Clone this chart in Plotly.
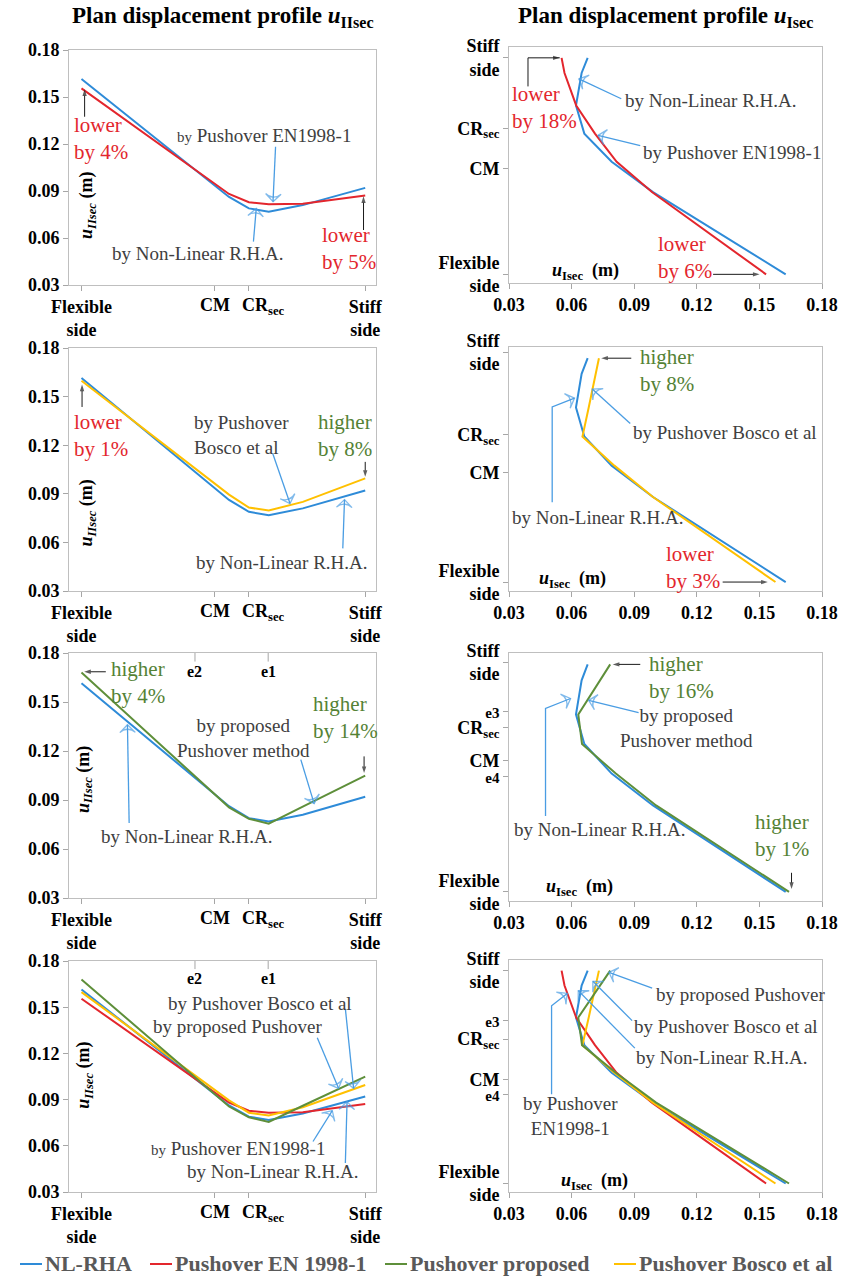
import plotly.graph_objects as go

W, H = 842, 1277
SERIF = "Liberation Serif"

# ---------------------------------------------------------------- data
# Plan position along the section (0 = flexible side, 1 = stiff side)
POS_II = [0.0, 0.52, 0.59, 0.66, 0.78, 1.0]
POS_I = [0.0, 0.38, 0.52, 0.65, 0.78, 0.93, 1.0]

# u_IIsec (m) at POS_II
UII_NLRHA = [0.1615, 0.0862, 0.0789, 0.0768, 0.0810, 0.0920]
UII_EN1998 = [0.1555, 0.0881, 0.0828, 0.0815, 0.0818, 0.0871]
UII_PROPOSED = [0.1680, 0.0855, 0.0785, 0.0755, 0.0860, 0.1049]
UII_BOSCO = [0.1598, 0.0895, 0.0815, 0.0797, 0.0850, 0.0995]

# u_Isec (m) at POS_I
UI_NLRHA = [0.1626, 0.0990, 0.0792, 0.0661, 0.0621, 0.0648, 0.0677]
UI_EN1998 = [0.1532, 0.0985, 0.0816, 0.0712, 0.0622, 0.0566, 0.0552]
UI_PROPOSED = [0.1642, 0.1005, 0.0812, 0.0650, 0.0632, 0.0735, 0.0785]
UI_BOSCO = [0.1577, 0.0990, 0.0805, 0.0652, 0.0682, 0.0714, 0.0731]

# landmark positions along the plan
II_SIDES = [0.0, 1.0]
II_SIDE_LABELS = ["Flexible<br>side", "Stiff<br>side"]
II_CM, II_CR = 0.47, 0.587
II_E_MARKS = [0.40, 0.658]
II_E_LABELS = ["e2", "e1"]
I_TICKS = [
    [0.0, 0.488, 0.675, 1.0],
    [0.0, 0.489, 0.659, 1.027],
    [0.0, 0.508, 0.576, 0.722, 0.791, 1.009],
    [0.0, 0.416, 0.487, 0.678, 0.765, 1.003],
]
E_SMALL = '<span style="font-size:15px">%s</span>'
I_SIDE = ["Flexible<br>side", "CM", "CR<sub>sec</sub>", "Stiff<br>side"]
I_E = ["Flexible<br>side", E_SMALL % "e4", "CM", "CR<sub>sec</sub>", E_SMALL % "e3", "Stiff<br>side"]
I_LABELS = [I_SIDE, I_SIDE, I_E, I_E]
DISP_TICKS = [0.03, 0.06, 0.09, 0.12, 0.15, 0.18]

SERIES_NAMES = ["NL-RHA", "Pushover EN 1998-1", "Pushover proposed", "Pushover Bosco et al"]
COLORS = {
    "NL-RHA": "#2e8bd8",
    "Pushover EN 1998-1": "#e3262d",
    "Pushover proposed": "#5e8f3a",
    "Pushover Bosco et al": "#ffc000",
}
UII = dict(zip(SERIES_NAMES, [UII_NLRHA, UII_EN1998, UII_PROPOSED, UII_BOSCO]))
UI = dict(zip(SERIES_NAMES, [UI_NLRHA, UI_EN1998, UI_PROPOSED, UI_BOSCO]))

ROW_SERIES = [
    ["NL-RHA", "Pushover EN 1998-1"],
    ["NL-RHA", "Pushover Bosco et al"],
    ["NL-RHA", "Pushover proposed"],
    ["NL-RHA", "Pushover EN 1998-1", "Pushover Bosco et al", "Pushover proposed"],
]

# ---------------------------------------------------------------- layout geometry (px)
LEFT_X = (69, 376)
RIGHT_X = (509, 822)
LEFT_Y = [(50, 285), (348, 591), (653, 898), (961, 1192)]
RIGHT_Y = [(47, 283), (347, 591), (653, 901), (960, 1192)]

TXT_GRAY = "#404040"
RED_TXT = "#e3262d"
GREEN_TXT = "#548235"
ARROW_BLUE = "#4a9de3"
AXIS_GRAY = "#bfbfbf"
TICK_GRAY = "#a6a6a6"
NOTE = 19      # size of the descriptive notes
PCT = 21       # size of the percentage notes
TICK_SIZE = 18


def xdom(a, b):
    return [a / W, b / W]


def ydom(t, b):
    return [1 - b / H, 1 - t / H]


def ax_id(k):
    return ("x", "y") if k == 1 else (f"x{k}", f"y{k}")


fig = go.Figure()
layout = dict(
    template="none",
    width=W, height=H, margin=dict(l=0, r=0, t=0, b=0, pad=0), autosize=False,
    paper_bgcolor="white", plot_bgcolor="white", showlegend=False,
    font=dict(family=SERIF, color="black"),
)

tickfont = dict(family=SERIF, size=TICK_SIZE, color="black", weight="bold")
common_axis = dict(
    showline=True, linecolor=AXIS_GRAY, linewidth=1, mirror=True,
    showgrid=False, zeroline=False, ticks="outside", ticklen=5,
    tickcolor=TICK_GRAY, tickfont=tickfont, fixedrange=True, tickangle=0,
    automargin=False,
)

annotations = []
shapes = []

for r in range(4):
    # left column: u_IIsec along the plan
    k = 2 * r + 1
    xr, yr = ax_id(k)
    for name in ROW_SERIES[r]:
        fig.add_trace(go.Scatter(
            x=POS_II, y=UII[name], mode="lines", name=name,
            line=dict(color=COLORS[name], width=2), xaxis=xr, yaxis=yr,
        ))
    xkey = "xaxis" if k == 1 else f"xaxis{k}"
    ykey = "yaxis" if k == 1 else f"yaxis{k}"
    layout[xkey] = dict(common_axis, domain=xdom(*LEFT_X), anchor=yr,
                        range=[-0.044, 1.038], tickvals=II_SIDES, ticktext=II_SIDE_LABELS,
                        minor=dict(tickvals=[II_CM, II_CR], ticks="outside", ticklen=5,
                                   tickcolor=TICK_GRAY, showgrid=False))
    layout[ykey] = dict(common_axis, domain=ydom(*LEFT_Y[r]), anchor=xr,
                        range=[0.03, 0.18], tickvals=DISP_TICKS, tickformat=".2f")
    # CM / CR_sec labels sit under their ticks, CR_sec label set slightly right
    for xv, lab, anchor, dx in ((II_CM, "CM", "center", 0.0),
                                (II_CR, "CR<sub>sec</sub>", "left", -0.028)):
        annotations.append(dict(
            x=xv + dx, y=0, xref=xr, yref=f"{yr} domain", text=f"<b>{lab}</b>",
            showarrow=False, xanchor=anchor, yanchor="top", yshift=-8,
            font=dict(family=SERIF, size=TICK_SIZE, color="black"),
        ))

    # right column: u_Isec along the plan
    k = 2 * r + 2
    xr, yr = ax_id(k)
    for name in ROW_SERIES[r]:
        fig.add_trace(go.Scatter(
            x=UI[name], y=POS_I, mode="lines", name=name,
            line=dict(color=COLORS[name], width=2), xaxis=xr, yaxis=yr,
        ))
    layout[f"xaxis{k}"] = dict(common_axis, domain=xdom(*RIGHT_X), anchor=yr,
                               range=[0.03, 0.18], tickvals=DISP_TICKS, tickformat=".2f")
    layout[f"yaxis{k}"] = dict(common_axis, domain=ydom(*RIGHT_Y[r]), anchor=xr,
                               range=[-0.04, 1.05], tickvals=I_TICKS[r], ticktext=I_LABELS[r])


def text(k, x, y, s, color=TXT_GRAY, size=NOTE, xanchor="left", align="left", angle=0):
    xr, yr = ax_id(k)
    annotations.append(dict(
        x=x, y=y, xref=xr, yref=yr, text=s, showarrow=False,
        xanchor=xanchor, yanchor="middle", align=align, textangle=angle,
        font=dict(family=SERIF, size=size, color=color),
    ))


def arrow(k, *pts, black=False):
    """Pointer drawn from the first point through the others; head at the last point."""
    xr, yr = ax_id(k)
    color = "#1a1a1a" if black else ARROW_BLUE
    n = len(pts)
    sizes = [0] * (n - 1) + [7 if black else 11]
    fig.add_trace(go.Scatter(
        x=[p[0] for p in pts], y=[p[1] for p in pts], mode="lines+markers",
        line=dict(color=color, width=1 if black else 1.3),
        marker=dict(symbol="arrow" if black else "arrow-wide-open", size=sizes,
                    angleref="previous", color=color,
                    line=dict(color=color, width=0 if black else 1.3)),
        hoverinfo="skip", xaxis=xr, yaxis=yr,
    ))


def e_marks(k, yval):
    xr, yr = ax_id(k)
    for xv, lab in zip(II_E_MARKS, II_E_LABELS):
        shapes.append(dict(type="line", xref=xr, yref=f"{yr} domain", x0=xv, x1=xv,
                           y0=1, y1=0.965, line=dict(color=TICK_GRAY, width=1)))
        text(k, xv, yval, f"<b>{lab}</b>", color="black", size=16, xanchor="center")


Y_TITLE_II = "<b><i>u</i></b><sub><b><i>IIsec</i></b></sub><b> (m)</b>"
X_TITLE_I = "<b><i>u</i><sub>Isec</sub>  (m)</b>"
BY_EN = '<span style="font-size:15px">by</span> Pushover EN1998-1'
NL = "by Non-Linear R.H.A."

# --- row 1, left
text(1, -0.034, 0.1236, "lower<br>by 4%", RED_TXT, PCT)
arrow(1, (0.011, 0.1374), (0.011, 0.1549), black=True)
text(1, 0.644, 0.1257, BY_EN, xanchor="center")
arrow(1, (0.684, 0.1183), (0.675, 0.0832))
text(1, 0.409, 0.0502, NL, xanchor="center")
arrow(1, (0.606, 0.0577), (0.616, 0.0789))
text(1, 0.84, 0.0534, "lower<br>by 5%", RED_TXT, PCT)
arrow(1, (0.994, 0.0651), (0.994, 0.0866), black=True)
text(1, 0.019, 0.081, Y_TITLE_II, "black", 18, xanchor="center", angle=-90)

# --- row 1, right
text(2, 0.0306, 0.772, "lower<br>by 18%", RED_TXT, PCT)
arrow(2, (0.0391, 0.868), (0.0391, 1.0), (0.0543, 1.0), black=True)
text(2, 0.0846, 0.803, NL)
arrow(2, (0.0838, 0.811), (0.0635, 0.903))
text(2, 0.0934, 0.565, "by Pushover EN1998-1")
arrow(2, (0.0929, 0.595), (0.0727, 0.642))
text(2, 0.1006, 0.077, "lower<br>by 6%", RED_TXT, PCT)
arrow(2, (0.1278, 0.0), (0.1501, 0.0), black=True)
text(2, 0.0495, 0.015, X_TITLE_I, "black", 18)

# --- row 2, left
text(3, -0.033, 0.1262, "lower<br>by 1%", RED_TXT, PCT)
arrow(3, (0.002, 0.1436), (0.002, 0.1574), black=True)
text(3, 0.388, 0.1264, "by Pushover<br>Bosco et al")
arrow(3, (0.674, 0.1149), (0.735, 0.084))
text(3, 0.828, 0.1262, "higher<br>by 8%", GREEN_TXT, PCT)
arrow(3, (1.0, 0.1097), (1.0, 0.1005), black=True)
text(3, 0.398, 0.0475, NL)
arrow(3, (0.921, 0.0563), (0.927, 0.0864))
text(3, 0.02, 0.0779, Y_TITLE_II, "black", 18, xanchor="center", angle=-90)

# --- row 2, right
text(4, 0.0918, 0.945, "higher<br>by 8%", GREEN_TXT, PCT)
arrow(4, (0.0886, 1.0), (0.0742, 1.0), black=True)
text(4, 0.0886, 0.670, "by Pushover Bosco et al")
arrow(4, (0.0881, 0.708), (0.0699, 0.862))
text(4, 0.0306, 0.289, NL)
arrow(4, (0.0507, 0.356), (0.0507, 0.782), (0.0614, 0.822))
text(4, 0.1045, 0.067, "lower<br>by 3%", RED_TXT, PCT)
arrow(4, (0.1324, 0.0), (0.154, 0.0), black=True)
text(4, 0.0434, 0.01, X_TITLE_I, "black", 18)

# --- row 3, left
e_marks(5, 0.1686)
text(5, 0.0975, 0.1622, "higher<br>by 4%", GREEN_TXT, PCT)
arrow(5, (0.0857, 0.1685), (0.0094, 0.1685), black=True)
text(5, 0.570, 0.128, "by proposed<br>Pushover method", xanchor="center", align="center")
arrow(5, (0.773, 0.1147), (0.820, 0.0878))
text(5, 0.808, 0.1404, "higher<br>by 14%", GREEN_TXT, PCT)
arrow(5, (0.996, 0.1167), (0.996, 0.1065), black=True)
text(5, 0.06, 0.0678, NL)
arrow(5, (0.168, 0.0759), (0.162, 0.1361))
text(5, 0.01, 0.1024, Y_TITLE_II, "black", 18, xanchor="center", angle=-90)

# --- row 3, right
text(6, 0.0961, 0.944, "higher<br>by 16%", GREEN_TXT, PCT)
arrow(6, (0.0929, 1.0), (0.0797, 1.0), black=True)
text(6, 0.1152, 0.722, "by proposed<br>Pushover method", xanchor="center", align="center")
arrow(6, (0.0921, 0.788), (0.0682, 0.842))
text(6, 0.0313, 0.275, NL)
arrow(6, (0.0475, 0.334), (0.0475, 0.806), (0.0595, 0.85))
text(6, 0.147, 0.246, "higher<br>by 1%", GREEN_TXT, PCT)
arrow(6, (0.1654, 0.084), (0.1654, 0.013), black=True)
text(6, 0.0467, 0.018, X_TITLE_I, "black", 18)

# --- row 4, left
e_marks(7, 0.1686)
text(7, 0.2965, 0.1524, "by Pushover Bosco et al")
text(7, 0.244, 0.1373, "by proposed Pushover")
arrow(7, (0.831, 0.1301), (0.906, 0.0973))
arrow(7, (0.930, 0.1491), (0.959, 0.0973))
text(7, 0.238, 0.0581, BY_EN)
arrow(7, (0.816, 0.0628), (0.884, 0.0828))
text(7, 0.366, 0.0434, NL)
arrow(7, (0.930, 0.0488), (0.936, 0.0887))
text(7, 0.012, 0.106, Y_TITLE_II, "black", 18, xanchor="center", angle=-90)

# --- row 4, right
text(8, 0.0994, 0.89, "by proposed Pushover")
arrow(8, (0.0986, 0.918), (0.0779, 0.992))
text(8, 0.089, 0.736, "by Pushover Bosco et al")
arrow(8, (0.089, 0.765), (0.0702, 0.95))
text(8, 0.0898, 0.592, NL)
arrow(8, (0.0903, 0.636), (0.0632, 0.906))
text(8, 0.0595, 0.317, "by Pushover<br>EN1998-1", xanchor="center", align="center")
arrow(8, (0.0504, 0.419), (0.0504, 0.835), (0.0579, 0.893))
text(8, 0.0539, 0.011, X_TITLE_I, "black", 18)

# --- column titles
for cx, sub in ((223, "IIsec"), (665, "Isec")):
    annotations.append(dict(
        x=cx / W, y=1 - 17 / H, xref="paper", yref="paper", showarrow=False,
        xanchor="center", yanchor="middle",
        text=f"<b>Plan displacement profile <i>u</i><sub>{sub}</sub></b>",
        font=dict(family=SERIF, size=23, color="black"),
    ))

# --- legend row: coloured key line followed by the series name
LEGEND_X = [20, 150, 385, 614]
KEY_LEN = 22
LEG_Y = 1 - 1264 / H
for lx, name in zip(LEGEND_X, SERIES_NAMES):
    shapes.append(dict(type="line", xref="paper", yref="paper",
                       x0=lx / W, x1=(lx + KEY_LEN) / W, y0=LEG_Y, y1=LEG_Y,
                       line=dict(color=COLORS[name], width=2)))
    annotations.append(dict(
        x=(lx + KEY_LEN + 1) / W, y=1 - 1263 / H, xref="paper", yref="paper",
        showarrow=False, xanchor="left", yanchor="middle",
        text=f"<b>{name}</b>",
        font=dict(family=SERIF, size=22, color="#595959"),
    ))

layout["annotations"] = annotations
layout["shapes"] = shapes
fig.update_layout(**layout)
fig.write_html("out.html")
